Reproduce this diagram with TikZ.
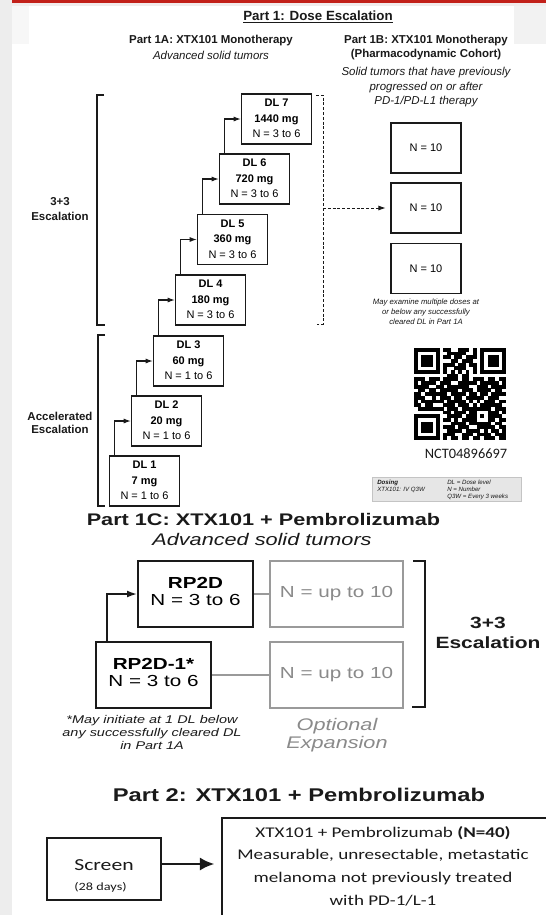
\documentclass[tikz,border=0pt]{standalone}
\usepackage{fontspec}
\setmainfont{Liberation Sans}
\newfontfamily\calfont{Carlito}
\usepackage{graphicx}
\usetikzlibrary{arrows.meta,calc}
\definecolor{redbar}{HTML}{C22019}
\definecolor{topband}{HTML}{F1ECEC}
\definecolor{gbox}{HTML}{9A9A9A}
\definecolor{gtext}{HTML}{8A8A8A}
\definecolor{strip}{HTML}{EDEDED}
\definecolor{legfill}{HTML}{E6E6E6}
\definecolor{legdraw}{HTML}{C4C4C4}
\definecolor{ink}{HTML}{1A1A1A}
\newcommand{\ctab}[1]{\begin{tabular}{@{}c@{}}#1\end{tabular}}
\newcommand{\ltab}[1]{\begin{tabular}{@{}l@{}}#1\end{tabular}}
\newcommand{\sx}[1]{\scalebox{1.29}[1]{#1}}
\newcount\qrcol
\newcount\qrrow
\newcommand{\qrline}[1]{\qrcol=0 \qrscan#1.\global\advance\qrrow by 1 }
\def\qrscan#1{\ifx.#1\else\if1#1\fill (\the\qrcol*3.68,\the\qrrow*3.68) rectangle ++(3.78,3.78);\fi\advance\qrcol by 1 \expandafter\qrscan\fi}
\begin{document}
\begin{tikzpicture}[x=0.75pt,y=-0.75pt,
  txt/.style={inner sep=0pt},
  dlbox/.style={draw=ink, line width=0.85pt, minimum width=52.5pt, minimum height=37.5pt, inner sep=0pt, font=\fontsize{8.25}{11.6}\selectfont},
  nbox/.style={dlbox},
  arr/.style={draw=ink, line width=0.85pt, -{Latex[length=5.5pt,width=3.8pt]}},
  brk/.style={draw=ink, line width=0.85pt},
  dsh/.style={draw=ink, line width=0.75pt, dash pattern=on 2.2pt off 1.4pt},
  blkbox/.style={draw=ink, line width=1.5pt, minimum width=86.25pt, minimum height=49.5pt, inner sep=0pt, font=\fontsize{12}{12.75}\selectfont},
  grybox/.style={draw=gbox, line width=1.1pt, minimum width=99.75pt, minimum height=49.5pt, inner sep=0pt, text=gtext, font=\fontsize{12}{13}\selectfont},
  gline/.style={draw=gbox, line width=0.9pt},
  arrB/.style={draw=ink, line width=1.2pt, -{Latex[length=7.5pt,width=5.2pt]}},
  arrC/.style={draw=ink, line width=2.1pt, -{Latex[length=11pt,width=10pt]}},
  p2box/.style={draw=ink, line width=1.3pt, inner sep=0pt}
]
\useasboundingbox (0,0) rectangle (546,915);
\clip (0,0) rectangle (546,915);
\fill[white] (0,0) rectangle (546,915);
\fill[strip] (0,0) rectangle (12,915);
\fill[redbar] (12,0) rectangle (546,3);
\fill[topband] (12,3) rectangle (546,6);
\fill[black!3] (12,6) rectangle (29,44);
\fill[black!5] (514,6) rectangle (546,44);

% ---------- Part 1 headers ----------
\node[txt, anchor=base, font=\fontsize{10}{12}\selectfont\bfseries, text=ink] (t1) at (318,20) {\underline{Part 1: Dose Escalation}};
\node[txt, font=\fontsize{8.6}{11.6}\selectfont, text=ink] (t1a) at (211,48.2) {\ctab{\textbf{Part 1A: XTX101 Monotherapy}\\\textit{Advanced solid tumors}}};
\node[txt, font=\fontsize{8.6}{10.5}\selectfont\bfseries, text=ink] (t1b) at (426,47.7) {\ctab{Part 1B: XTX101 Monotherapy\\(Pharmacodynamic Cohort)}};
\node[txt, font=\fontsize{8.6}{10.7}\selectfont\itshape, text=ink] (t1bs) at (426,87.4) {\ctab{Solid tumors that have previously\\progressed on or after\\PD-1/PD-L1 therapy}};

% ---------- Part 1A staircase ----------
\node[dlbox] (dl1) at (144.5,481) {\ctab{\textbf{DL 1}\\\textbf{7 mg}\\N = 1 to 6}};
\node[dlbox] (dl2) at (166.5,421) {\ctab{\textbf{DL 2}\\\textbf{20 mg}\\N = 1 to 6}};
\node[dlbox] (dl3) at (188.5,361) {\ctab{\textbf{DL 3}\\\textbf{60 mg}\\N = 1 to 6}};
\node[dlbox] (dl4) at (210.5,300) {\ctab{\textbf{DL 4}\\\textbf{180 mg}\\N = 3 to 6}};
\node[dlbox] (dl5) at (232.5,239.5) {\ctab{\textbf{DL 5}\\\textbf{360 mg}\\N = 3 to 6}};
\node[dlbox] (dl6) at (254.5,179) {\ctab{\textbf{DL 6}\\\textbf{720 mg}\\N = 3 to 6}};
\node[dlbox] (dl7) at (276.5,119) {\ctab{\textbf{DL 7}\\\textbf{1440 mg}\\N = 3 to 6}};
\foreach \a/\b in {dl1/dl2,dl2/dl3,dl3/dl4,dl4/dl5,dl5/dl6,dl6/dl7}
  \draw[arr] ([xshift=4.1pt]\a.north west) |- (\b.west);

% brackets
\coordinate (ea) at (104,95);
\coordinate (eb) at (97,95);
\coordinate (ec) at (97,325);
\coordinate (ed) at (105,325);
\draw[brk] (ea) -- (eb) -- (ec) -- (ed);
\coordinate (aa) at (105,335);
\coordinate (ab) at (98,335);
\coordinate (ac) at (98,506);
\coordinate (ad) at (105,506);
\draw[brk] (aa) -- (ab) -- (ac) -- (ad);
\node[txt, font=\fontsize{8.6}{11.25}\selectfont\bfseries, text=ink] (esc1) at (60,209.5) {\ctab{3+3\\Escalation}};
\node[txt, font=\fontsize{8.6}{9.75}\selectfont\bfseries, text=ink] (acc) at (60,423.9) {\ctab{Accelerated\\Escalation}};

% ---------- Part 1B ----------
\node[nbox] (n1) at (426,148) {N = 10};
\node[nbox] (n2) at (426,208) {N = 10};
\node[nbox] (n3) at (426,268.5) {N = 10};
\coordinate (da) at (316,95);
\coordinate (db) at (323,95);
\coordinate (dc) at (323,324);
\coordinate (dd) at (317,324);
\coordinate (dm) at (323,208);
\draw[dsh] (da) -- (db) -- (dc) -- (dd);
\draw[dsh, -{Latex[length=5.5pt,width=3.8pt]}, shorten >=3.5pt] (dm) -- (n2.west);
\node[txt, font=\fontsize{5.8}{7.5}\selectfont\itshape, text=ink] (note) at (426,312) {\ctab{May examine multiple doses at\\or below any successfully\\cleared DL in Part 1A}};

% QR code
\begin{scope}[shift={(414,348)}]
\global\qrrow=0
\qrline{1111111011001110101111111}
\qrline{1000001001111100101000001}
\qrline{1011101011011011101011101}
\qrline{1011101000110111001011101}
\qrline{1011101011101101101011101}
\qrline{1000001010011100101000001}
\qrline{1111111010101010101111111}
\qrline{0000000001110110000000000}
\qrline{1110111011110110111011011}
\qrline{1011110111001111101111101}
\qrline{1111001101111110011101111}
\qrline{0110110111110111011110110}
\qrline{1101111110111101101101111}
\qrline{1110010111011011111011100}
\qrline{1011111101111101010111011}
\qrline{1101100011101110101111110}
\qrline{0111111101110111111110111}
\qrline{0000000011011101100011101}
\qrline{1111111001111011101011110}
\qrline{1000001011010111100011011}
\qrline{1011101000111101111110110}
\qrline{1011101011101110011111011}
\qrline{1011101001111011110101101}
\qrline{1000001011100111011110111}
\qrline{1111111010110110110111011}
\end{scope}
\node[txt, anchor=base, font=\calfont\fontsize{10.8}{12}\selectfont, text=ink] (nct) at (466,458) {NCT04896697};

% legend
\node[draw=legdraw, fill=legfill, line width=0.4pt, minimum width=111.75pt, minimum height=18pt, inner sep=0pt] (leg) at (446.5,489) {};
\node[txt, anchor=west, font=\fontsize{4.6}{5.25}\selectfont\itshape, text=ink] (legA) at (377,486.1) {\ltab{\textbf{Dosing}\\XTX101: IV Q3W}};
\node[txt, anchor=west, font=\fontsize{4.6}{5.25}\selectfont\itshape, text=ink] (legB) at (447,489.6) {\ltab{DL = Dose level\\N = Number\\Q3W = Every 3 weeks}};

% ---------- Part 1C ----------
\node[txt, anchor=base, font=\fontsize{12.6}{14}\selectfont\bfseries, text=ink] (t1c) at (263.5,525) {\sx{Part 1C: XTX101 + Pembrolizumab}};
\node[txt, anchor=base, font=\fontsize{12.6}{14}\selectfont\itshape, text=ink] (t1cs) at (262,545) {\sx{Advanced solid tumors}};
\node[blkbox] (rp) at (195.5,594) {\sx{\ctab{\textbf{RP2D}\\N = 3 to 6}}};
\node[blkbox] (rpm) at (153.5,675) {\sx{\ctab{\textbf{RP2D-1*}\\N = 3 to 6}}};
\node[grybox] (g1) at (336.5,594) {\sx{N = up to 10}};
\node[grybox] (g2) at (336.5,675) {\sx{N = up to 10}};
\draw[gline] (rp.east) -- (g1.west);
\draw[gline] (rpm.east) -- (g2.west);
\draw[arrB] ([xshift=9pt]rpm.north west) |- (rp.west);
\coordinate (ba) at (413,561);
\coordinate (bb) at (425,561);
\coordinate (bc) at (425,707);
\coordinate (bd) at (412,707);
\draw[draw=ink, line width=1.3pt] (ba) -- (bb) -- (bc) -- (bd);
\node[txt, font=\fontsize{12.2}{15}\selectfont\bfseries, text=ink] (esc2) at (488,634) {\sx{\ctab{3+3\\Escalation}}};
\node[txt, font=\fontsize{8.4}{10.1}\selectfont\itshape, text=ink] (foot) at (152,733.8) {\sx{\ctab{*May initiate at 1 DL below\\any successfully cleared DL\\in Part 1A}}};
\node[txt, font=\fontsize{12.6}{13.5}\selectfont\itshape, text=gtext] (opt) at (337,735.4) {\sx{\ctab{Optional\\Expansion}}};

% ---------- Part 2 ----------
\node[txt, anchor=base, font=\fontsize{13.8}{16}\selectfont\bfseries, text=ink] (t2) at (299,801) {\sx{Part 2: XTX101 + Pembrolizumab}};
\node[p2box, minimum width=85.5pt, minimum height=46.5pt] (screen) at (104,869) {};
\node[txt, font=\calfont\fontsize{12.6}{15}\selectfont, text=ink] (screentxt) at (104,876) {\sx{\ltab{Screen\\{\fontsize{8.3}{15}\selectfont (28 days)}}}};
\node[p2box, minimum width=253.5pt, minimum height=95.25pt] (big) at (391,881.5) {};
\node[txt, font=\calfont\fontsize{11.1}{17}\selectfont, text=ink] (bigtxt) at (383,866.5) {\sx{\ctab{XTX101 + Pembrolizumab \textbf{(N=40)}\\Measurable, unresectable, metastatic\\melanoma not previously treated\\with PD-1/L-1}}};
\draw[arrC, shorten >=5pt] ([yshift=3.75pt]screen.east) -- ([yshift=3.75pt]screen.east -| big.west);
\end{tikzpicture}
\end{document}
